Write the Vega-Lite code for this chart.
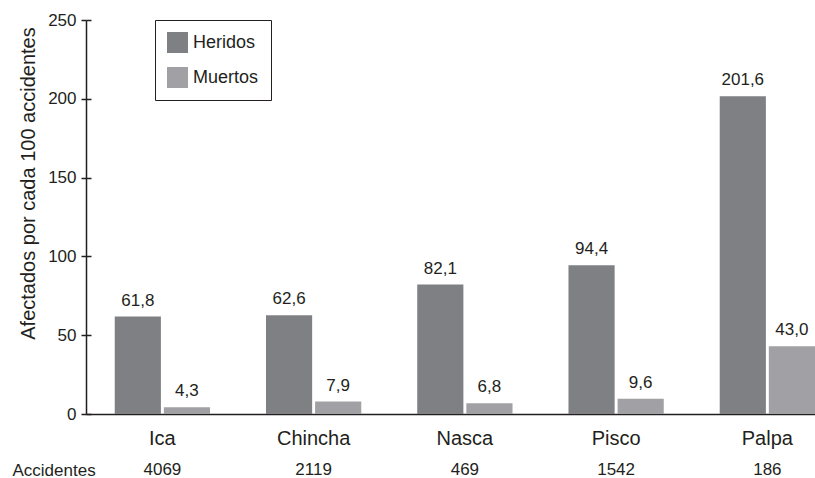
{
  "$schema": "https://vega.github.io/schema/vega-lite/v6.json",
  "autosize": {"type": "pad"},
  "padding": {"left": 12, "top": 11, "right": 0, "bottom": 0},
  "background": "white",
  "bounds": "flush",
  "spacing": 46,
  "config": {
    "font": "Liberation Sans",
    "view": {"stroke": null},
    "locale": {"number": {"decimal": ",", "thousands": ".", "grouping": [3], "currency": ["", ""]}}
  },
  "data": {
    "values": [
      {"provincia": "Ica", "Heridos": 61.8, "Muertos": 4.3, "accidentes": 4069},
      {"provincia": "Chincha", "Heridos": 62.6, "Muertos": 7.9, "accidentes": 2119},
      {"provincia": "Nasca", "Heridos": 82.1, "Muertos": 6.8, "accidentes": 469},
      {"provincia": "Pisco", "Heridos": 94.4, "Muertos": 9.6, "accidentes": 1542},
      {"provincia": "Palpa", "Heridos": 201.6, "Muertos": 43.0, "accidentes": 186}
    ]
  },
  "vconcat": [
    {
      "width": 729,
      "height": 394,
      "transform": [{"fold": ["Heridos", "Muertos"], "as": ["tipo", "valor"]}],
      "encoding": {
        "x": {
          "field": "provincia", "type": "nominal", "sort": null,
          "scale": {"type": "band", "paddingInner": 0.37, "paddingOuter": 0.095, "align": 1},
          "axis": {"title": null, "labelAngle": 0, "ticks": false, "labelPadding": 14, "labelFontSize": 20, "labelColor": "#231f20", "domainColor": "#231f20", "domainWidth": 1.5}
        },
        "xOffset": {"field": "tipo", "type": "nominal", "scale": {"paddingInner": 0.06, "paddingOuter": 0}},
        "y": {
          "field": "valor", "type": "quantitative",
          "scale": {"domain": [0, 250], "nice": false}
        }
      },
      "layer": [
        {
          "mark": {"type": "bar"},
          "encoding": {
            "y": {
              "field": "valor", "type": "quantitative",
              "scale": {"domain": [0, 250], "nice": false},
              "axis": {
                "title": "Afectados por cada 100 accidentes", "titleFontSize": 20, "titleFontWeight": "normal", "titleColor": "#231f20",
                "titleAngle": -90, "titleX": -58, "titleY": 163, "titleBaseline": "middle", "titleAlign": "center",
                "values": [0, 50, 100, 150, 200, 250], "grid": false,
                "labelFontSize": 17, "labelColor": "#231f20", "labelPadding": 5,
                "tickSize": 5, "tickColor": "#231f20", "tickWidth": 1.5,
                "domainColor": "#231f20", "domainWidth": 1.5
              }
            },
            "color": {
              "field": "tipo", "type": "nominal",
              "scale": {"domain": ["Heridos", "Muertos"], "range": ["#7f8084", "#a1a1a5"]},
              "legend": {
                "title": null, "orient": "none", "legendX": 69, "legendY": 0,
                "symbolType": "square", "symbolSize": 441, "symbolStrokeWidth": 0,
                "labelFontSize": 18, "labelColor": "#231f20", "labelOffset": 5,
                "rowPadding": 14, "padding": 12,
                "strokeColor": "#231f20", "fillColor": "white"
              }
            }
          }
        },
        {
          "mark": {"type": "text", "baseline": "alphabetic", "dy": -11, "fontSize": 17, "color": "#231f20"},
          "encoding": {
            "text": {"field": "valor", "type": "quantitative", "format": ".1f"},
            "y": {
              "field": "valor", "type": "quantitative",
              "axis": {"orient": "left", "domain": false, "labels": false, "title": null, "grid": false, "values": [0, 50, 100, 150, 200, 250], "tickSize": -5, "tickColor": "#231f20", "tickWidth": 1.5}
            }
          }
        }
      ],
      "resolve": {"axis": {"y": "independent"}}
    },
    {
      "width": 729,
      "height": 20,
      "mark": {"type": "text", "fontSize": 17, "color": "#231f20"},
      "encoding": {
        "x": {
          "field": "provincia", "type": "nominal", "sort": null,
          "scale": {"type": "band", "paddingInner": 0.37, "paddingOuter": 0.095, "align": 1},
          "axis": null
        },
        "y": {
          "datum": "Accidentes", "type": "nominal",
          "axis": {"title": null, "domain": false, "ticks": false, "labelAlign": "left", "labelPadding": 74, "labelFontSize": 17, "labelColor": "#231f20"}
        },
        "text": {"field": "accidentes", "type": "quantitative", "format": "d"}
      }
    }
  ]
}
